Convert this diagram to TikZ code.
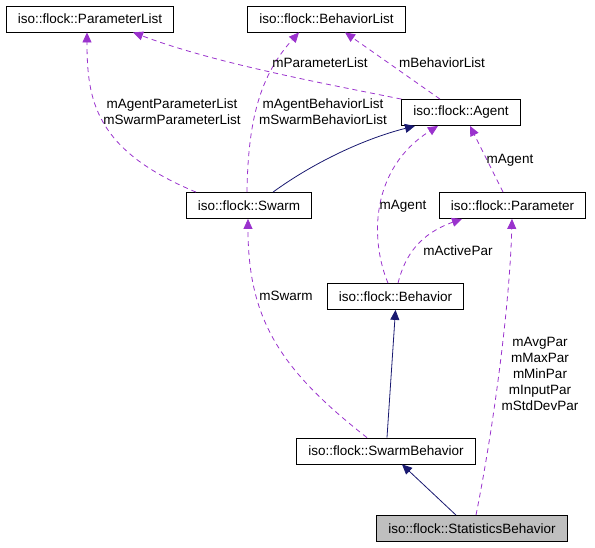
\documentclass[tikz,border=0pt]{standalone}
\usepackage{fontspec}
\setmainfont{Liberation Sans}
\usetikzlibrary{arrows.meta}
\definecolor{orchid}{HTML}{9A32CD}
\definecolor{midnight}{HTML}{191970}

\begin{document}
\begin{tikzpicture}[x=1pt, y=-1pt,
        cls/.style={draw, line width=0.8pt, inner xsep=11.5pt, inner ysep=0pt, minimum height=26pt, font=\fontsize{13.5}{16}\selectfont},
        uses/.style={orchid, line width=0.8pt, dash pattern=on 5pt off 4pt, -{Triangle[length=10pt, width=9pt]}},
        isa/.style={midnight, line width=0.8pt, -{Triangle[length=10pt, width=9pt]}},
        lbl/.style={align=center, inner sep=0pt, font=\fontsize{13.5}{16}\selectfont}]
    \useasboundingbox (0, 0) rectangle (595, 547);
    \node[cls] (plist) at (90, 19) {iso::flock::ParameterList};
    \node[cls] (blist) at (326.5, 19) {iso::flock::BehaviorList};
    \node[cls] (agent) at (461, 112.5) {iso::flock::Agent};
    \node[cls] (swarm) at (249, 205.5) {iso::flock::Swarm};
    \node[cls] (param) at (512.5, 205.5) {iso::flock::Parameter};
    \node[cls] (behav) at (395.5, 296.5) {iso::flock::Behavior};
    \node[cls] (swbeh) at (386, 451) {iso::flock::SwarmBehavior};
    \node[cls, fill=black!25] (stat) at (472, 528.5) {iso::flock::StatisticsBehavior};

    \draw[uses] (agent.north west) .. controls +(-90, -18) and +(80, 30) .. ([xshift=43pt]plist.south);
    \draw[uses] ([xshift=-21pt]agent.north) -- ([xshift=18.5pt]blist.south);
    \draw[uses] ([xshift=-53pt]swarm.north) .. controls +(-101, -42) and +(0, 68) .. ([xshift=-3pt]plist.south);
    \draw[uses] ([xshift=-2pt]swarm.north) .. controls +(1, -72) and +(-39, 43) .. ([xshift=-27.5pt]blist.south);
    \draw[isa] ([xshift=24pt]swarm.north) .. controls +(37, -27) and +(-55, 14) .. ([xshift=-46pt]agent.south);
    \draw[uses] ([xshift=-7.5pt]behav.north) .. controls +(-18, -43) and +(-68, 43) .. ([xshift=-23pt]agent.south);
    \draw[uses] ([xshift=-9.5pt]param.north) -- ([xshift=9pt]agent.south);
    \draw[uses] ([xshift=2.5pt]behav.north) .. controls +(7, -28) and +(-42, 15) .. ([xshift=-50.5pt]param.south);
    \draw[isa] ([xshift=1pt]swbeh.north) -- (behav.south);
    \draw[uses] ([xshift=-19pt]swbeh.north) .. controls +(-87, -68) and +(0, 100) .. ([xshift=-1pt]swarm.south);
    \draw[isa] ([xshift=-16pt]stat.north) -- ([xshift=16pt]swbeh.south);
    \draw[uses] ([xshift=4pt]stat.north) .. controls +(19, -95) and +(-2, 80) .. ([xshift=-0.5pt]param.south);

    \node[lbl] (lplist) at (320, 63) {mParameterList};
    \node[lbl] (lblist) at (442, 63) {mBehaviorList};
    \node[lbl] (lswpl) at (172, 112) {mAgentParameterList\\mSwarmParameterList};
    \node[lbl] (lswbl) at (323, 112) {mAgentBehaviorList\\mSwarmBehaviorList};
    \node[lbl] (lpagent) at (510, 160) {mAgent};
    \node[lbl] (lbagent) at (403, 206) {mAgent};
    \node[lbl] (lactive) at (458, 251) {mActivePar};
    \node[lbl] (lswarm) at (286, 296) {mSwarm};
    \node[lbl] (lstat) at (540, 374) {mAvgPar\\mMaxPar\\mMinPar\\mInputPar\\mStdDevPar};
\end{tikzpicture}
\end{document}
